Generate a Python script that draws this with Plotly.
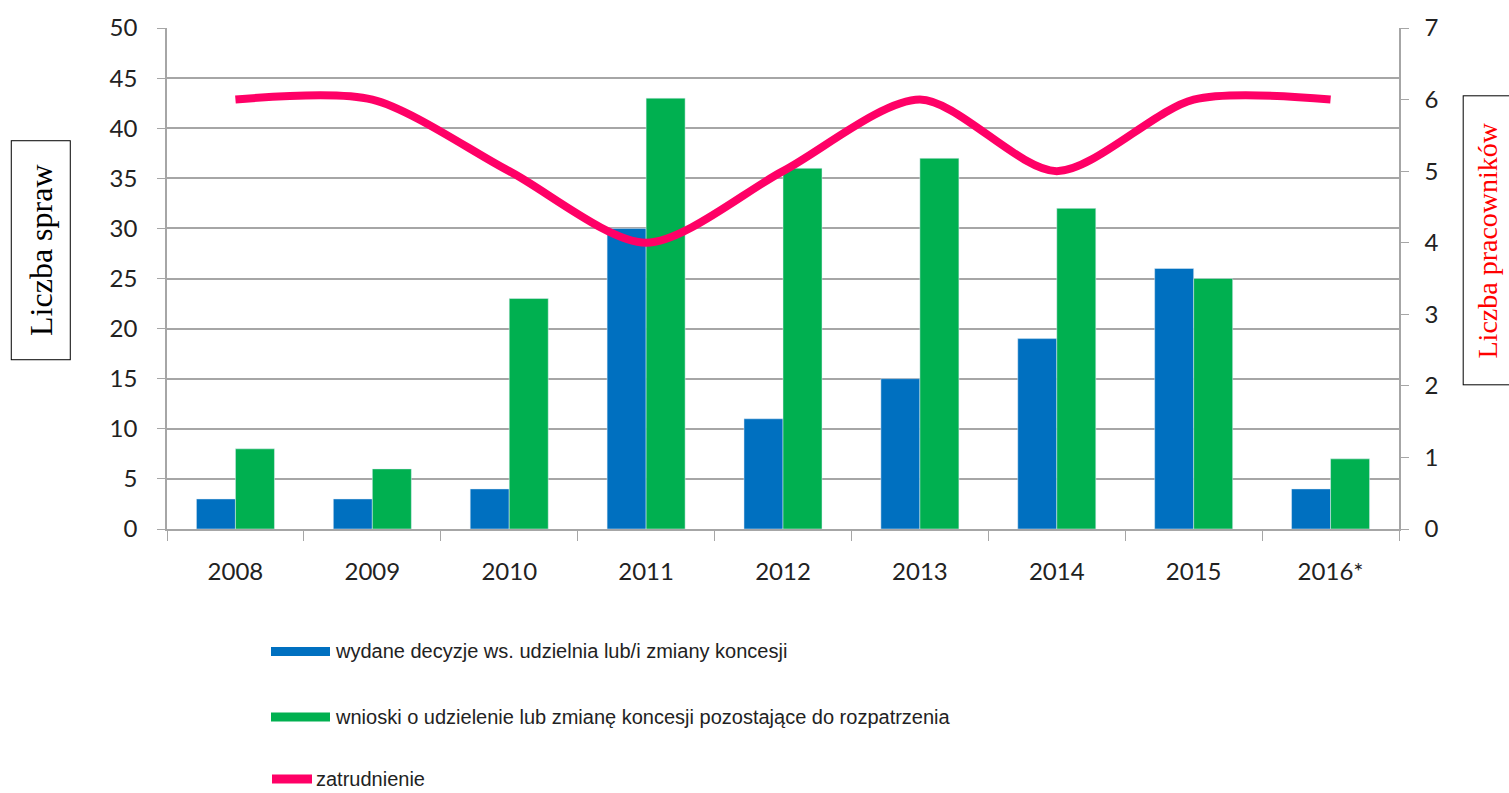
import plotly.graph_objects as go

years = ["2008", "2009", "2010", "2011", "2012", "2013", "2014", "2015", "2016*"]
decyzje = [3, 3, 4, 30, 11, 15, 19, 26, 4]
wnioski = [8, 6, 23, 43, 36, 37, 32, 25, 7]
zatrudnienie = [6, 6, 5, 4, 5, 6, 5, 6, 6]

names = [
    "wydane decyzje ws. udzielnia lub/i zmiany koncesji",
    "wnioski o udzielenie lub zmianę koncesji pozostające do rozpatrzenia",
    "zatrudnienie",
]
BLUE = "#0070C0"
GREEN = "#00B050"
PINK = "#FF0066"
GRID = "#A6A6A6"

fig = go.Figure()
fig.add_trace(go.Bar(x=years, y=decyzje, name=names[0], marker_color=BLUE, showlegend=False))
fig.add_trace(go.Bar(x=years, y=wnioski, name=names[1], marker_color=GREEN, showlegend=False))
fig.add_trace(go.Scatter(x=years, y=zatrudnienie, name=names[2], yaxis="y2", mode="lines",
                         line=dict(color=PINK, width=8, shape="spline", smoothing=0.8),
                         showlegend=False))

W, H = 1509, 793
L, R, T, B = 167, 110, 24, 264
pw, ph = W - L - R, H - T - B

def px(x):
    return (x - L) / pw

def py(y):
    return (H - B - y) / ph

tickfont = dict(family="Lato, Carlito, Liberation Sans, sans-serif", size=24, color="#222222")
fig.update_layout(
    width=W, height=H,
    margin=dict(l=L, r=R, t=T, b=B),
    plot_bgcolor="white", paper_bgcolor="white",
    barmode="group", bargap=0.43, bargroupgap=0,
    xaxis=dict(showline=True, linecolor=GRID, linewidth=1.5, ticks="outside", tickson="boundaries",
               ticklen=10, tickcolor=GRID, tickfont=tickfont, showgrid=False, ticklabelstandoff=20),
    yaxis=dict(range=[0, 50], dtick=5, showline=True, linecolor=GRID, linewidth=1.5, ticks="outside",
               ticklen=8, tickcolor=GRID, gridcolor=GRID, gridwidth=1.5, tickfont=tickfont,
               zeroline=False, ticklabelstandoff=15),
    yaxis2=dict(range=[0, 7], dtick=1, overlaying="y", side="right", showline=True, linecolor=GRID,
                linewidth=1.5, ticks="outside", ticklen=8, tickcolor=GRID, showgrid=False,
                tickfont=tickfont, zeroline=False, ticklabelstandoff=11),
    showlegend=False,
)

# axis title boxes
fig.add_annotation(xref="paper", yref="paper", x=px(41), y=py(248), text="Liczba spraw",
                   xanchor="center", yanchor="middle",
                   textangle=-90, showarrow=False, width=216, height=56,
                   font=dict(family="Liberation Serif, serif", size=32, color="black"),
                   bordercolor="black", borderwidth=1, borderpad=1, bgcolor="white")
fig.add_annotation(xref="paper", yref="paper", x=px(1488), y=py(238), text="Liczba pracowników",
                   xanchor="center", yanchor="middle",
                   textangle=-90, showarrow=False, width=286, height=46,
                   font=dict(family="Liberation Serif, serif", size=28, color="#FF0000"),
                   bordercolor="black", borderwidth=1, borderpad=1, bgcolor="white")

# legend drawn manually
legfont = dict(family="Liberation Sans Narrow, Arial Narrow, sans-serif", size=20, color="#222222")
leg_y = [652, 718, 781]
fig.add_shape(type="rect", xref="paper", yref="paper", x0=px(271), x1=px(330), y0=py(648), y1=py(657),
              fillcolor=BLUE, line_width=0)
fig.add_shape(type="rect", xref="paper", yref="paper", x0=px(271), x1=px(330), y0=py(714), y1=py(723),
              fillcolor=GREEN, line_width=0)
fig.add_shape(type="line", xref="paper", yref="paper", x0=px(272), x1=px(312), y0=py(781), y1=py(781),
              line=dict(color=PINK, width=9))
for i, (nm, xs) in enumerate(zip(names, [333, 333, 314])):
    fig.add_annotation(xref="paper", yref="paper", x=px(xs), y=py(leg_y[i]), text=nm, showarrow=False,
                       xanchor="left", yanchor="middle", font=legfont)

fig.write_html("out.html", config={"displayModeBar": False},
               post_script="document.body.style.margin='0';document.body.style.overflow='hidden';")
